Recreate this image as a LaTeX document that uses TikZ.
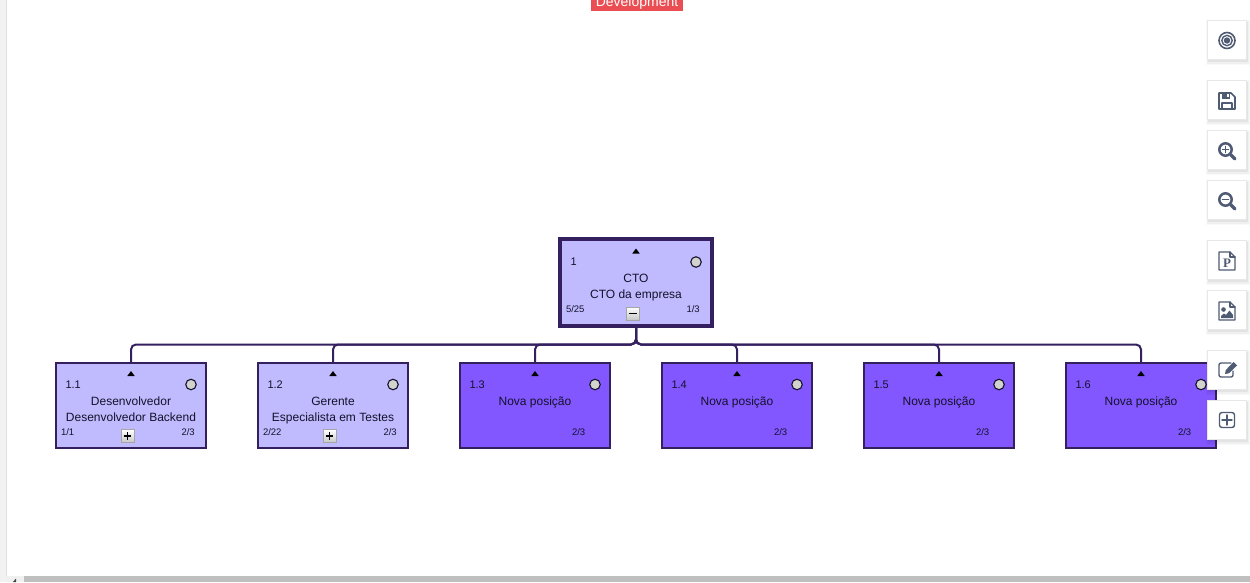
\documentclass[tikz,border=0pt]{standalone}
\usepackage{fontspec}
\setmainfont{Liberation Sans}
\newfontfamily\slabfont{Liberation Serif}
\definecolor{edgepurple}{HTML}{35205F}
\definecolor{lightfill}{HTML}{C0BBFF}
\definecolor{darkfill}{HTML}{8257FF}
\definecolor{txtdark}{HTML}{14112A}
\definecolor{dotgrey}{HTML}{D2D2CE}
\definecolor{iconblue}{HTML}{4F5A73}
\definecolor{tagred}{HTML}{EA4E52}
\definecolor{btnline}{HTML}{E8E8E8}
\tikzset{
  posbox/.style={draw=edgepurple,line width=2pt,outer sep=0pt,inner sep=0pt,minimum width=150pt,minimum height=85.5pt},
  lightbox/.style={posbox,fill=lightfill},
  darkbox/.style={posbox,fill=darkfill},
  rootbox/.style={posbox,fill=lightfill,line width=4pt,minimum width=152pt,minimum height=87pt},
  link/.style={draw=edgepurple,line width=2pt,rounded corners=5pt},
  lab/.style={inner sep=0pt,outer sep=0pt,text=txtdark,font=\fontsize{12}{14}\selectfont,anchor=base},
  numlab/.style={lab,font=\fontsize{11}{13}\selectfont,anchor=base west},
  smalllab/.style={lab,font=\fontsize{9.5}{11}\selectfont,anchor=base west},
  tri/.style={fill=black,draw=none},
  dot/.style={circle,draw=txtdark,line width=1.1pt,fill=dotgrey,minimum size=10.5pt,inner sep=0pt,outer sep=0pt},
  togglebtn/.style={draw=black!35,line width=.8pt,top color=white,bottom color=black!22,minimum size=13pt,inner sep=0pt,outer sep=0pt},
  toolbtn/.style={draw=btnline,line width=1pt,fill=white,minimum size=39pt,inner sep=0pt,outer sep=0pt},
  ico/.style={draw=iconblue,line width=1.6pt,line join=round,line cap=round},
}
\newcommand{\markers}[3]{% name, cx, y of marker
  \fill[tri] (#2-3.7,#3+3) -- (#2,#3-2) -- (#2+3.7,#3+3) -- cycle;
}
\begin{document}
\begin{tikzpicture}[x=1pt,y=-1pt]
\useasboundingbox (0,0) rectangle (1250,582);
\fill[white] (0,0) rectangle (1250,582);
% page chrome
\fill[black!5] (0,0) rectangle (6,582);
\draw[black!12,line width=.8pt] (6.4,0) -- (6.4,576);
\fill[black!6] (6,576) rectangle (1250,582);
\fill[black!25] (24,576) rectangle (1250,582);
\fill[black!75] (13,582) -- (16,578.5) -- (16,582) -- cycle;
% tag
\node[fill=tagred,minimum width=92pt,minimum height=20pt,inner sep=0pt,outer sep=0pt] (tag) at (637,1) {};
\node[inner sep=0pt,text=white,font=\fontsize{14}{16}\selectfont,anchor=base] (tagtext) at (637,6.5) {Development};
% positions
\node[rootbox] (root) at (636,282.8) {};
\coordinate (bus) at (636,344.5);
\node[lightbox] (c1) at (131,405.25) {};
\node[lightbox] (c2) at (333,405.25) {};
\node[darkbox] (c3) at (535,405.25) {};
\node[darkbox] (c4) at (737,405.25) {};
\node[darkbox] (c5) at (939,405.25) {};
\node[darkbox] (c6) at (1141,405.25) {};
% connectors
\foreach \c in {c1,c2,c3,c4,c5,c6}{
  \draw[link] (root.south) -- (bus) -| (\c.north);
}
% root content
\markers{r}{636}{250.5}
\node[numlab] (rn) at (570.5,265) {1};
\node[dot] (rd) at (696,262) {};
\node[lab] (rt1) at (636,282) {CTO};
\node[lab] (rt2) at (636,298) {CTO da empresa};
\node[smalllab] (rs1) at (566,312) {5/25};
\node[smalllab] (rs2) at (686.5,312) {1/3};
\node[togglebtn] (rb) at (633,313.5) {};
\draw[black,line width=1.1pt] (rb.center) ++(-3.8,0) -- ++(7.6,0);
% child 1
\markers{a}{131}{373}
\node[numlab] (n1) at (65.5,388) {1.1};
\node[dot] (d1) at (191,384.5) {};
\node[lab] (t1a) at (131,405) {Desenvolvedor};
\node[lab] (t1b) at (131,421) {Desenvolvedor Backend};
\node[smalllab] (s1a) at (61,435) {1/1};
\node[smalllab] (s1b) at (181.5,435) {2/3};
\node[togglebtn] (b1) at (127.5,436) {};
\draw[black,line width=1.1pt] (b1.center) ++(-3.8,0) -- ++(7.6,0) (b1.center) ++(0,-3.8) -- ++(0,7.6);
% child 2
\markers{b}{333}{373}
\node[numlab] (n2) at (267.5,388) {1.2};
\node[dot] (d2) at (393,384.5) {};
\node[lab] (t2a) at (333,405) {Gerente};
\node[lab] (t2b) at (333,421) {Especialista em Testes};
\node[smalllab] (s2a) at (263,435) {2/22};
\node[smalllab] (s2b) at (383.5,435) {2/3};
\node[togglebtn] (b2) at (329.5,436) {};
\draw[black,line width=1.1pt] (b2.center) ++(-3.8,0) -- ++(7.6,0) (b2.center) ++(0,-3.8) -- ++(0,7.6);
% new positions
\foreach \i/\cx/\lbl in {3/535/1.3,4/737/1.4,5/939/1.5,6/1141/1.6}{
  \markers{x}{\cx}{373}
  \node[numlab] (n\i) at (\cx-65.5,388) {\lbl};
  \node[dot] (d\i) at (\cx+60,384.5) {};
  \node[lab] (t\i) at (\cx,405) {Nova posição};
  \node[smalllab] (s\i) at (\cx+37,435) {2/3};
}
% toolbar
\foreach \nm/\cy in {tb1/40,tb2/100,tb3/150,tb4/200,tb5/260,tb6/310,tb7/370,tb8/420}{
  \fill[black,opacity=.025] (1206,\cy-20) rectangle (1250,\cy+25);
  \fill[black,opacity=.035] (1207,\cy-19) rectangle (1249,\cy+23.5);
  \fill[black,opacity=.05] (1208,\cy-18) rectangle (1248,\cy+22);
  \node[toolbtn] (\nm) at (1227,\cy) {};
}
% target icon
\draw[ico,line width=1.6pt] (tb1.center) ++(0,.5) circle (8);
\draw[ico,line width=1.4pt] (tb1.center) ++(0,.5) circle (5.2);
\fill[iconblue] (tb1.center) ++(0,.5) circle (3.2);
% save icon
\draw[ico] (1219,93) -- (1231,93) -- (1235,97) -- (1235,109) -- (1219,109) -- cycle;
\fill[iconblue] (1222,93) rectangle (1230,98.5);
\fill[white] (1226.5,94.3) rectangle (1228.5,97.3);
\draw[ico,line width=1.4pt] (1222,109) -- (1222,103) -- (1232,103) -- (1232,109);
% zoom in
\draw[ico,line width=2.5pt] (1225.5,149.5) circle (6.2);
\draw[ico,line width=3.4pt] (1230.8,154.8) -- (1235,159);
\draw[ico,line width=1.5pt] (1222.5,149.5) -- (1228.5,149.5) (1225.5,146.5) -- (1225.5,152.5);
% zoom out
\draw[ico,line width=2.5pt] (1225.5,199.5) circle (6.2);
\draw[ico,line width=3.4pt] (1230.8,204.8) -- (1235,209);
\draw[ico,line width=1.8pt] (1222.5,199.5) -- (1228.5,199.5);
% document P icon
\draw[ico,line width=1.4pt] (1219,252) -- (1230,252) -- (1235,257) -- (1235,270) -- (1219,270) -- cycle;
\draw[ico,line width=1.1pt] (1230,252) -- (1230,257) -- (1235,257);
\node[inner sep=0pt,text=iconblue,font=\fontsize{13}{14}\slabfont\bfseries\selectfont] (pp) at (1227,263) {P};
% document image icon
\draw[ico,line width=1.4pt] (1219,302) -- (1230,302) -- (1235,307) -- (1235,320) -- (1219,320) -- cycle;
\draw[ico,line width=1.1pt] (1230,302) -- (1230,307) -- (1235,307);
\fill[iconblue] (1223.5,309.5) circle (2.3);
\fill[iconblue] (1221,318) -- (1221,316) -- (1224,313.5) -- (1226,315) -- (1229.5,310.5) -- (1233,315) -- (1233,318) -- cycle;
% edit icon
\draw[ico,rounded corners=2pt,line width=1.4pt] (1231,363) -- (1219,363) -- (1219,377) -- (1233,377) -- (1233,371);
\fill[iconblue] (1225,374) -- (1225.8,370) -- (1233.5,362) -- (1237,365.5) -- (1229,373.2) -- cycle;
% add icon
\draw[ico,rounded corners=2.5pt,line width=1.4pt] (1219.5,412.5) rectangle (1234.5,427.5);
\draw[ico,line width=1.4pt] (1227,415) -- (1227,425) (1222,420) -- (1232,420);
\end{tikzpicture}
\end{document}
